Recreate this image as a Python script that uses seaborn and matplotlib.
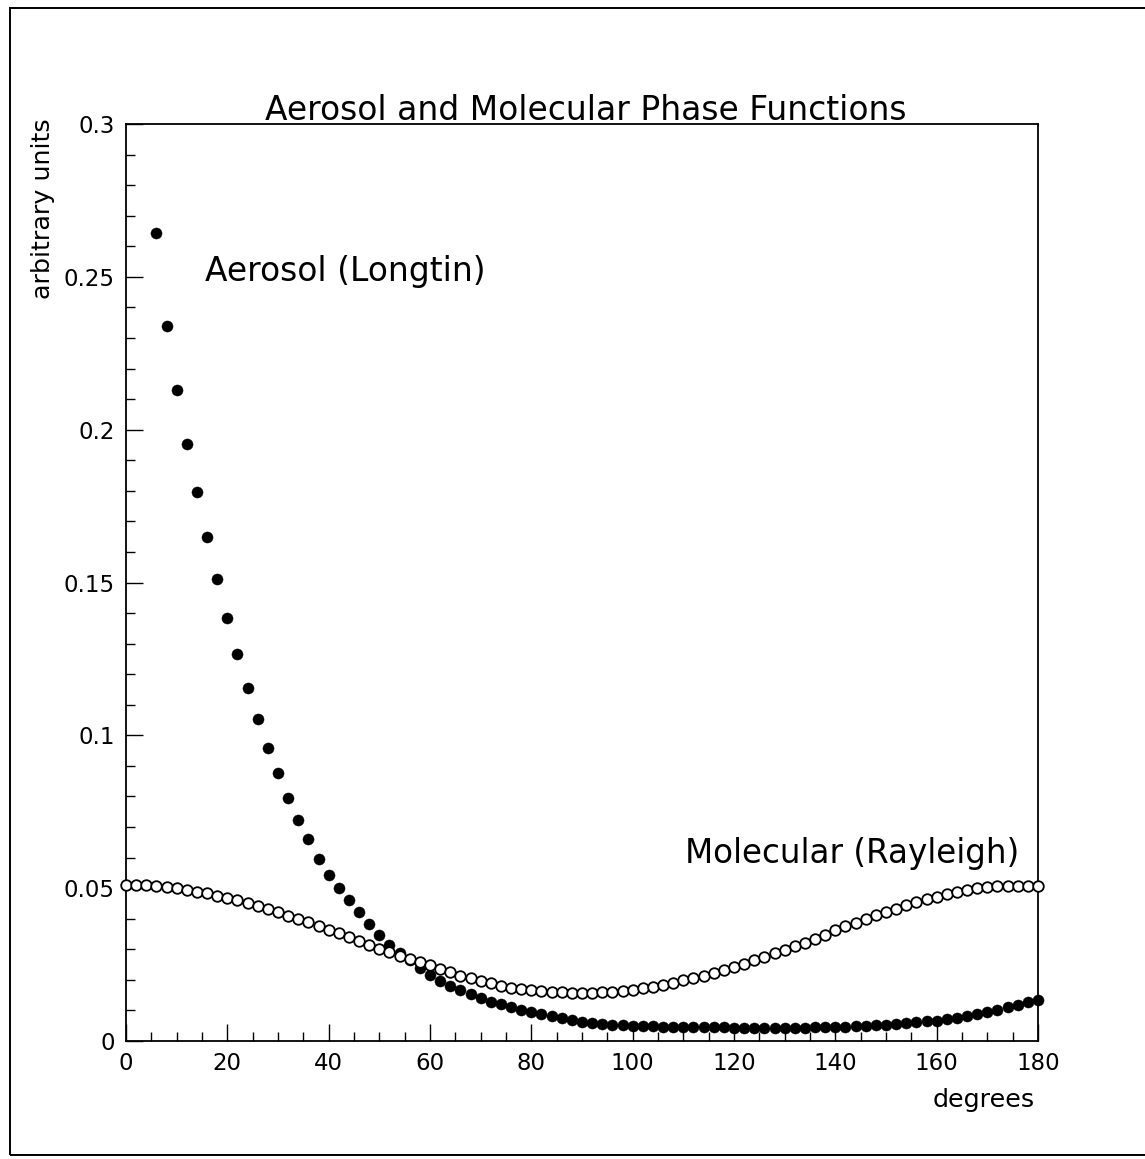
import matplotlib
matplotlib.use("Agg")
import matplotlib.pyplot as plt
import seaborn as sns
import pandas as pd
from matplotlib.ticker import MultipleLocator, FixedLocator
from matplotlib.patches import Rectangle

# ---------------- data ----------------
molecular_deg = [0, 2, 4, 6, 8, 10, 12, 14, 16, 18, 20, 22, 24, 26, 28, 30, 32, 34, 36, 38,
                 40, 42, 44, 46, 48, 50, 52, 54, 56, 58, 60, 62, 64, 66, 68, 70, 72, 74, 76, 78,
                 80, 82, 84, 86, 88, 90, 92, 94, 96, 98, 100, 102, 104, 106, 108, 110, 112, 114,
                 116, 118, 120, 122, 124, 126, 128, 130, 132, 134, 136, 138, 140, 142, 144, 146,
                 148, 150, 152, 154, 156, 158, 160, 162, 164, 166, 168, 170, 172, 174, 176, 178, 180]
molecular_val = [0.0510, 0.0510, 0.0509, 0.0507, 0.0504, 0.0500, 0.0495, 0.0489, 0.0483, 0.0476,
                 0.0469, 0.0461, 0.0452, 0.0442, 0.0432, 0.0421, 0.0410, 0.0399, 0.0388, 0.0376,
                 0.0364, 0.0352, 0.0340, 0.0328, 0.0315, 0.0302, 0.0290, 0.0279, 0.0268, 0.0258,
                 0.0248, 0.0236, 0.0225, 0.0214, 0.0205, 0.0197, 0.0189, 0.0181, 0.0175, 0.0170,
                 0.0166, 0.0163, 0.0161, 0.0159, 0.0158, 0.0158, 0.0158, 0.0159, 0.0161, 0.0164,
                 0.0168, 0.0172, 0.0178, 0.0184, 0.0191, 0.0198, 0.0206, 0.0214, 0.0223, 0.0232,
                 0.0242, 0.0253, 0.0264, 0.0275, 0.0287, 0.0299, 0.0310, 0.0322, 0.0334, 0.0348,
                 0.0362, 0.0375, 0.0387, 0.0399, 0.0411, 0.0422, 0.0433, 0.0444, 0.0454, 0.0463,
                 0.0472, 0.0480, 0.0487, 0.0494, 0.0499, 0.0503, 0.0506, 0.0507, 0.0508, 0.0508,
                 0.0508]

aerosol_deg = [6, 8, 10, 12, 14, 16, 18, 20, 22, 24, 26, 28, 30, 32, 34, 36, 38, 40, 42, 44,
               46, 48, 50, 52, 54, 56, 58, 60, 62, 64, 66, 68, 70, 72, 74, 76, 78, 80, 82, 84,
               86, 88, 90, 92, 94, 96, 98, 100, 102, 104, 106, 108, 110, 112, 114, 116, 118, 120,
               122, 124, 126, 128, 130, 132, 134, 136, 138, 140, 142, 144, 146, 148, 150, 152,
               154, 156, 158, 160, 162, 164, 166, 168, 170, 172, 174, 176, 178, 180]
aerosol_val = [0.2643, 0.2339, 0.2130, 0.1954, 0.1797, 0.1648, 0.1511, 0.1385, 0.1266, 0.1156,
               0.1053, 0.0958, 0.0876, 0.0796, 0.0723, 0.0660, 0.0594, 0.0543, 0.0501, 0.0461,
               0.0421, 0.0382, 0.0346, 0.0314, 0.0288, 0.0264, 0.0240, 0.0216, 0.0197, 0.0181,
               0.0168, 0.0154, 0.0140, 0.0129, 0.0120, 0.0110, 0.0101, 0.0094, 0.0087, 0.0081,
               0.0074, 0.0069, 0.0063, 0.0059, 0.0055, 0.0053, 0.0051, 0.0050, 0.0049, 0.0048,
               0.0047, 0.0047, 0.0046, 0.0046, 0.0045, 0.0045, 0.0045, 0.0044, 0.0044, 0.0044,
               0.0044, 0.0044, 0.0044, 0.0044, 0.0044, 0.0045, 0.0045, 0.0046, 0.0047, 0.0048,
               0.0049, 0.0051, 0.0053, 0.0055, 0.0058, 0.0061, 0.0064, 0.0067, 0.0071, 0.0076,
               0.0082, 0.0089, 0.0096, 0.0103, 0.0111, 0.0119, 0.0127, 0.0135]

x_ticks = [0, 20, 40, 60, 80, 100, 120, 140, 160, 180]
x_tick_labels = ["0", "20", "40", "60", "80", "100", "120", "140", "160", "180"]
y_ticks = [0, 0.05, 0.1, 0.15, 0.2, 0.25, 0.3]
y_tick_labels = ["0", "0.05", "0.1", "0.15", "0.2", "0.25", "0.3"]

title = "Aerosol and Molecular Phase Functions"
x_label = "degrees"
y_label = "arbitrary units"
aerosol_label = "Aerosol (Longtin)"
molecular_label = "Molecular (Rayleigh)"

# ---------------- figure ----------------
sns.set_theme(style="white")
plt.rcParams["font.family"] = ["DejaVu Sans"]

W, H = 1145, 1159
fig = plt.figure(figsize=(W / 100, H / 100), dpi=100)
fig.patch.set_facecolor("white")

def fx(px):
    return px / W

def fy(py):
    return 1 - py / H

ax = fig.add_axes([fx(126), fy(1041), (1038 - 126) / W, (1041 - 124) / H])
ax.set_facecolor("white")

df_a = pd.DataFrame({"deg": aerosol_deg, "val": aerosol_val})
df_m = pd.DataFrame({"deg": molecular_deg, "val": molecular_val})

sns.scatterplot(data=df_a, x="deg", y="val", ax=ax, marker="o", s=64,
                color="black", edgecolor="black", linewidth=0.3, zorder=3, clip_on=False)
sns.scatterplot(data=df_m, x="deg", y="val", ax=ax, marker="o", s=58,
                facecolor="white", edgecolor="black", linewidth=1.3, zorder=4, clip_on=False)

ax.set_xlim(0, 180)
ax.set_ylim(0, 0.3)
ax.set_xlabel("")
ax.set_ylabel("")

ax.xaxis.set_major_locator(FixedLocator(x_ticks))
ax.set_xticklabels(x_tick_labels)
ax.xaxis.set_minor_locator(MultipleLocator(5))
ax.yaxis.set_major_locator(FixedLocator(y_ticks))
ax.set_yticklabels(y_tick_labels)
ax.yaxis.set_minor_locator(MultipleLocator(0.01))

ax.tick_params(which="both", direction="in", colors="black", width=1.0,
               top=False, right=False, left=True, bottom=True)
ax.tick_params(which="major", length=12.5, labelsize=16.5)
ax.tick_params(which="minor", length=6.5)
ax.tick_params(axis="y", which="major", pad=8)
ax.tick_params(axis="x", which="major", pad=8)

for sp in ax.spines.values():
    sp.set_visible(True)
    sp.set_color("black")
    sp.set_linewidth(1.3)

# texts
fig.text(fx(586), fy(120), title, ha="center", va="baseline", fontsize=23.7, color="black")
fig.text(fx(205), fy(281), aerosol_label, ha="left", va="baseline", fontsize=23.7, color="black")
fig.text(fx(685), fy(863), molecular_label, ha="left", va="baseline", fontsize=23.5, color="black")
fig.text(fx(1035), fy(1100), x_label, ha="right", va="center", fontsize=18.3, color="black")
fig.text(fx(43), fy(118), y_label, ha="center", va="top", rotation=90, fontsize=18.3, color="black")

# outer frame
fig.patches.append(Rectangle((fx(10), fy(1155)), (1170 - 10) / W, (1155 - 8) / H,
                             transform=fig.transFigure, fill=False, lw=1.4,
                             edgecolor="black", zorder=0))

fig.savefig("out.png", dpi=100)
